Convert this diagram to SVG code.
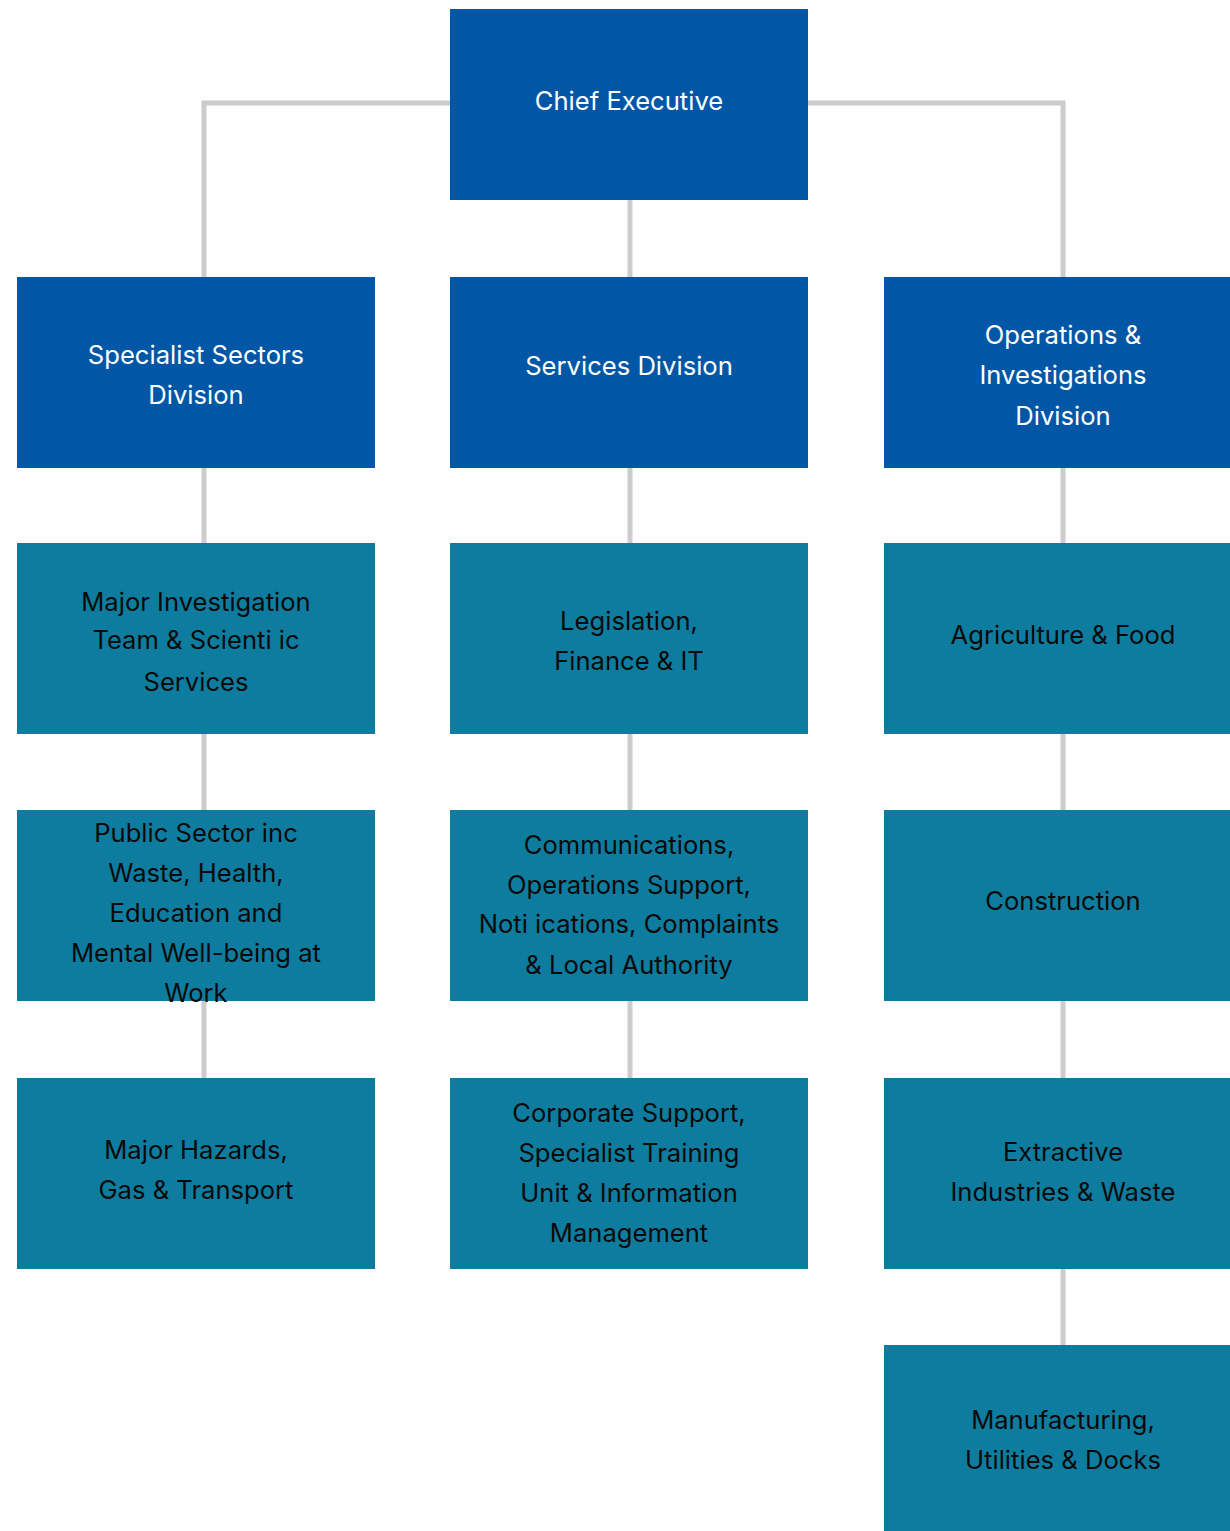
<svg xmlns="http://www.w3.org/2000/svg" width="1230" height="1531" viewBox="0 0 1230 1531">
<style>
.blue{fill:#0157A6}
.teal{fill:#0E7C9E}
.conn{stroke:#CCCCCC;stroke-width:5;fill:none}
text{font-family:Inter,"Liberation Sans",sans-serif;font-size:25.6px;text-anchor:middle}
.w{fill:#FFFFFF}
.k{fill:#0A0A0A}
</style>
<rect width="1230" height="1531" fill="#FFFFFF"/>
<g id="connectors">
<path class="conn" d="M450 103 H204 V277"/>
<path class="conn" d="M808 103 H1063 V277"/>
<path class="conn" d="M630 200 V277"/>
<path class="conn" d="M204 468 V543 M204 734 V810 M204 1001 V1078"/>
<path class="conn" d="M630 468 V543 M630 734 V810 M630 1001 V1078"/>
<path class="conn" d="M1063 468 V543 M1063 734 V810 M1063 1001 V1078 M1063 1269 V1345"/>
</g>
<g id="chief"><rect class="blue" x="450" y="9" width="358" height="191"/><text class="w" x="629" y="110">Chief Executive</text></g>
<g id="specialist"><rect class="blue" x="17" y="277" width="358" height="191"/><text class="w" x="196" y="364">Specialist Sectors</text><text class="w" x="196" y="404">Division</text></g>
<g id="services"><rect class="blue" x="450" y="277" width="358" height="191"/><text class="w" x="629" y="375">Services Division</text></g>
<g id="operations"><rect class="blue" x="884" y="277" width="346" height="191"/><text class="w" x="1063" y="344">Operations &amp;</text><text class="w" x="1063" y="384">Investigations</text><text class="w" x="1063" y="425">Division</text></g>
<g id="major-investigation"><rect class="teal" x="17" y="543" width="358" height="191"/><text class="k" x="196" y="611">Major Investigation</text><text class="k" x="196" y="649">Team &amp; Scienti ic</text><text class="k" x="196" y="691">Services</text></g>
<g id="legislation"><rect class="teal" x="450" y="543" width="358" height="191"/><text class="k" x="629" y="630">Legislation,</text><text class="k" x="629" y="670">Finance &amp; IT</text></g>
<g id="agriculture"><rect class="teal" x="884" y="543" width="346" height="191"/><text class="k" x="1063" y="644">Agriculture &amp; Food</text></g>
<g id="public-sector"><rect class="teal" x="17" y="810" width="358" height="191"/><text class="k" x="196" y="842">Public Sector inc</text><text class="k" x="196" y="882">Waste, Health,</text><text class="k" x="196" y="922">Education and</text><text class="k" x="196" y="962">Mental Well-being at</text><text class="k" x="196" y="1002">Work</text></g>
<g id="communications"><rect class="teal" x="450" y="810" width="358" height="191"/><text class="k" x="629" y="854">Communications,</text><text class="k" x="629" y="894">Operations Support,</text><text class="k" x="629" y="933">Noti ications, Complaints</text><text class="k" x="629" y="974">&amp; Local Authority</text></g>
<g id="construction"><rect class="teal" x="884" y="810" width="346" height="191"/><text class="k" x="1063" y="910">Construction</text></g>
<g id="major-hazards"><rect class="teal" x="17" y="1078" width="358" height="191"/><text class="k" x="196" y="1159">Major Hazards,</text><text class="k" x="196" y="1199">Gas &amp; Transport</text></g>
<g id="corporate"><rect class="teal" x="450" y="1078" width="358" height="191"/><text class="k" x="629" y="1122">Corporate Support,</text><text class="k" x="629" y="1162">Specialist Training</text><text class="k" x="629" y="1202">Unit &amp; Information</text><text class="k" x="629" y="1242">Management</text></g>
<g id="extractive"><rect class="teal" x="884" y="1078" width="346" height="191"/><text class="k" x="1063" y="1161">Extractive</text><text class="k" x="1063" y="1201">Industries &amp; Waste</text></g>
<g id="manufacturing"><rect class="teal" x="884" y="1345" width="346" height="186"/><text class="k" x="1063" y="1429">Manufacturing,</text><text class="k" x="1063" y="1469">Utilities &amp; Docks</text></g>
</svg>
